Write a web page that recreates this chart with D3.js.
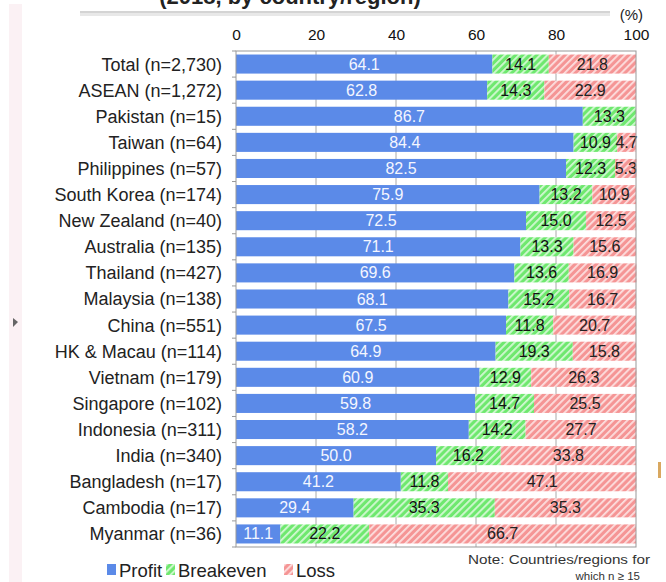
<!DOCTYPE html>
<html>
<head>
<meta charset="utf-8">
<script src="https://cdn.jsdelivr.net/npm/d3@7"></script>
<style>
  body { margin: 0; background: #fff; }
  svg { font-family: "Liberation Sans", Arial, sans-serif; }
</style>
</head>
<body>
<svg id="chart" width="666" height="582"></svg>
<script>
// data
var regions = ["Total (n=2,730)", "ASEAN (n=1,272)", "Pakistan (n=15)", "Taiwan (n=64)",
    "Philippines (n=57)", "South Korea (n=174)", "New Zealand (n=40)", "Australia (n=135)",
    "Thailand (n=427)", "Malaysia (n=138)", "China (n=551)", "HK & Macau (n=114)",
    "Vietnam (n=179)", "Singapore (n=102)", "Indonesia (n=311)", "India (n=340)",
    "Bangladesh (n=17)", "Cambodia (n=17)", "Myanmar (n=36)"]
var profit = [64.1, 62.8, 86.7, 84.4, 82.5, 75.9, 72.5, 71.1, 69.6, 68.1, 67.5, 64.9, 60.9, 59.8, 58.2, 50.0, 41.2, 29.4, 11.1]
var breakeven = [14.1, 14.3, 13.3, 10.9, 12.3, 13.2, 15.0, 13.3, 13.6, 15.2, 11.8, 19.3, 12.9, 14.7, 14.2, 16.2, 11.8, 35.3, 22.2]
var loss = [21.8, 22.9, 0, 4.7, 5.3, 10.9, 12.5, 15.6, 16.9, 16.7, 20.7, 15.8, 26.3, 25.5, 27.7, 33.8, 47.1, 35.3, 66.7]
var seriesNames = ["Profit", "Breakeven", "Loss"]
var xTicks = [0, 20, 40, 60, 80, 100]

var dims = {
    width: 666,
    height: 582,
    margin: { top: 51, bottom: 35, left: 236, right: 30 }
}

var svg = d3.select("#chart")

// page decoration (cropped title + rule + side strip)
svg.append("rect").attr("x", 9).attr("y", 4).attr("width", 13).attr("height", 578).attr("fill", "#fbf1f4")
svg.append("path").attr("d", "M13,318 L18,322 L13,327 Z").attr("fill", "#666")
svg.append("rect").attr("x", 80).attr("y", 12).attr("width", 530).attr("height", 4).attr("fill", "#e8e8e8")
svg.append("rect").attr("x", 80).attr("y", 11).attr("width", 530).attr("height", 2).attr("fill", "#d4d4d4")
svg.append("text").attr("x", 290).attr("y", 4).attr("text-anchor", "middle")
    .attr("font-size", 22).attr("font-weight", "bold").attr("fill", "#222")
    .text("(2018, by country/region)")
svg.append("rect").attr("x", 658).attr("y", 462).attr("width", 3).attr("height", 16).attr("fill", "#d9a860")

// patterns
var defs = svg.append("defs")
function hatch(id, base) {
    var p = defs.append("pattern").attr("id", id)
        .attr("patternUnits", "userSpaceOnUse").attr("width", 5).attr("height", 5)
        .attr("patternTransform", "rotate(45)")
    p.append("rect").attr("width", 5).attr("height", 5).attr("fill", base)
    p.append("rect").attr("x", 0).attr("width", 1.8).attr("height", 5).attr("fill", "#fff").attr("opacity", 0.7)
}
hatch("hatchGreen", "#6fe86f")
hatch("hatchPink", "#f59595")

var fills = ["#5b8ae8", "url(#hatchGreen)", "url(#hatchPink)"]
var labelColors = ["#f4f6ff", "#111", "#222"]

var xScale = d3.scaleLinear().domain([0, 100])
    .range([dims.margin.left, dims.width - dims.margin.right])
var yScale = d3.scaleBand().domain(regions)
    .range([dims.margin.top, dims.height - dims.margin.bottom])
    .paddingInner(0.27).paddingOuter(0.135)

var plotTop = dims.margin.top, plotBottom = dims.height - dims.margin.bottom

// gridlines
svg.append("g").selectAll("line")
    .data(xTicks.slice(1, -1))
    .enter().append("line")
    .attr("x1", d => xScale(d)).attr("x2", d => xScale(d))
    .attr("y1", plotTop).attr("y2", plotBottom)
    .attr("stroke", "#aaa").attr("stroke-width", 1)

// stacked bars
var rows = regions.map((r, i) => ({ region: r, vals: [profit[i], breakeven[i], loss[i]] }))
var seg = []
rows.forEach(function(row) {
    var start = 0
    row.vals.forEach(function(v, k) {
        seg.push({ region: row.region, k: k, x0: start, x1: start + v, v: v })
        start += v
    })
})
seg = seg.filter(d => d.v > 0)

svg.append("g").selectAll("rect")
    .data(seg)
    .enter().append("rect")
    .attr("x", d => xScale(d.x0))
    .attr("y", d => yScale(d.region))
    .attr("width", d => xScale(d.x1) - xScale(d.x0))
    .attr("height", yScale.bandwidth())
    .attr("fill", d => fills[d.k])

svg.append("g").selectAll("text")
    .data(seg)
    .enter().append("text")
    .attr("x", d => (xScale(d.x0) + xScale(d.x1)) / 2)
    .attr("y", d => yScale(d.region) + yScale.bandwidth() / 2 + 5.5)
    .attr("text-anchor", "middle")
    .attr("font-size", 16)
    .attr("fill", d => labelColors[d.k])
    .text(d => d.v.toFixed(1))

// frame
svg.append("rect")
    .attr("x", xScale(0)).attr("y", plotTop)
    .attr("width", xScale(100) - xScale(0)).attr("height", plotBottom - plotTop)
    .attr("fill", "none").attr("stroke", "#999")

// axes
var xAxis = svg.append("g")
    .attr("transform", `translate(0, ${plotTop - 11})`)
    .call(d3.axisTop(xScale).tickValues(xTicks).tickSize(0).tickPadding(0))
xAxis.select(".domain").remove()
xAxis.selectAll("text").attr("font-size", 15.5).attr("fill", "#111")
    .style("font-family", "Liberation Sans, Arial, sans-serif")

var yAxis = svg.append("g")
    .attr("transform", `translate(${dims.margin.left}, 0)`)
    .call(d3.axisLeft(yScale).tickSize(0).tickPadding(14))
yAxis.select(".domain").remove()
yAxis.selectAll("text").attr("font-size", 18).attr("fill", "#222")
    .attr("dy", "0.36em")
    .style("font-family", "Liberation Sans, Arial, sans-serif")

// small ticks between categories
var step = yScale.step()
svg.append("g").selectAll("line")
    .data(d3.range(regions.length + 1))
    .enter().append("line")
    .attr("x1", xScale(0) - 4).attr("x2", xScale(0))
    .attr("y1", i => plotTop + i * step).attr("y2", i => plotTop + i * step)
    .attr("stroke", "#999")

svg.append("text").attr("x", 643).attr("y", 20).attr("text-anchor", "end")
    .attr("font-size", 15).attr("fill", "#222").text("(%)")

// legend
var legendX = [107, 166, 284]
var legend = svg.append("g").selectAll("g")
    .data(seriesNames)
    .enter().append("g")
    .attr("transform", (d, i) => `translate(${legendX[i]}, 564)`)
legend.append("rect").attr("y", 0).attr("width", 9).attr("height", 11)
    .attr("fill", (d, i) => fills[i])
legend.append("text").attr("x", 12).attr("y", 13).attr("font-size", 18.5).attr("fill", "#222").text(d => d)

svg.append("text").attr("x", 650).attr("y", 564).attr("text-anchor", "end")
    .attr("font-size", 12.5).attr("textLength", 182).attr("lengthAdjust", "spacingAndGlyphs")
    .attr("fill", "#333").text("Note: Countries/regions for")
svg.append("text").attr("x", 640).attr("y", 580).attr("text-anchor", "end")
    .attr("font-size", 11.5).attr("fill", "#333").text("which n \u2265 15")
</script>
</body>
</html>
